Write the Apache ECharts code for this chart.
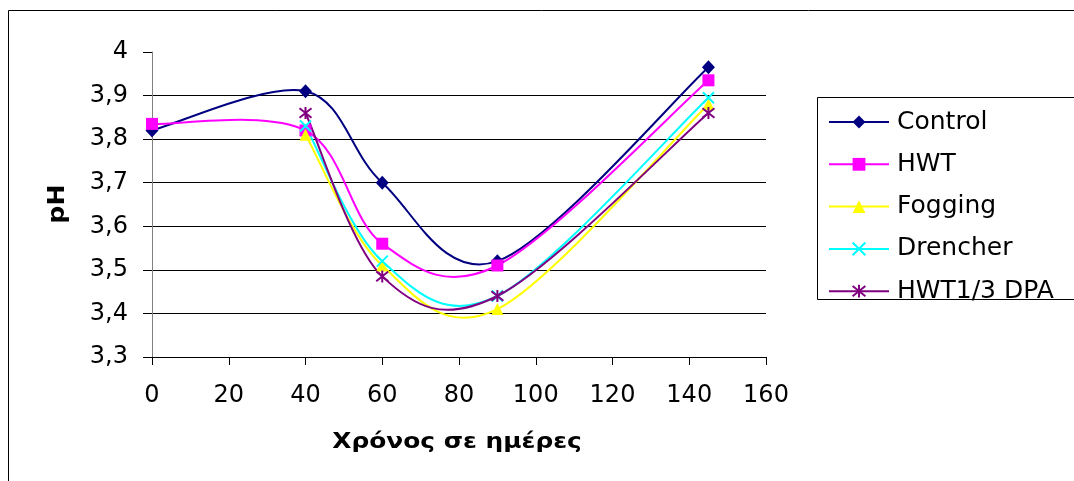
<!DOCTYPE html>
<html>
<head>
<meta charset="utf-8">
<script src="https://cdn.jsdelivr.net/npm/echarts@6/dist/echarts.min.js"></script>
<style>html,body{margin:0;padding:0;background:#fff}#c{width:1074px;height:481px}</style>
</head>
<body>
<div id="c"></div>
<script>
const days = [0, 40, 60, 90, 145];
const seriesNames = ['Control', 'HWT', 'Fogging', 'Drencher', 'HWT1/3 DPA'];
const control = [3.82, 3.91, 3.70, 3.52, 3.965];
const hwt = [3.835, 3.82, 3.56, 3.51, 3.935];
const fogging = [null, 3.81, 3.51, 3.41, 3.88];
const drencher = [null, 3.83, 3.52, 3.44, 3.895];
const dpa = [null, 3.86, 3.485, 3.44, 3.86];
const yTicks = [3.3, 3.4, 3.5, 3.6, 3.7, 3.8, 3.9, 4];
const xTicks = [0, 20, 40, 60, 80, 100, 120, 140, 160];

const colors = ['#000080', '#FF00FF', '#FFFF00', '#00FFFF', '#800080'];
const symbols = [
  'diamond',
  'rect',
  'triangle',
  'path://M0,0L10,10M10,0L0,10',
  'path://M5,0L5,10M1,1L9,9M9,1L1,9'
];
const sizes = [[13, 14], 12, 12, 11, 12];
const values = [control, hwt, fogging, drencher, dpa];

function pairs(arr) {
  const out = [];
  arr.forEach((v, i) => { if (v !== null) out.push([days[i], v]); });
  return out;
}

// Excel-style smoothed line (uniform Catmull-Rom Bezier), computed in pixel space via the axes
function makeRender(pts, color) {
  return function (params, api) {
    const i = params.dataIndex;
    if (i >= pts.length - 1) return null;
    const P = pts.map(p => api.coord(p));
    const p0 = P[Math.max(i - 1, 0)], p1 = P[i], p2 = P[i + 1], p3 = P[Math.min(i + 2, P.length - 1)];
    const f = 1 / 6;
    return {
      type: 'bezierCurve',
      shape: {
        x1: p1[0], y1: p1[1], x2: p2[0], y2: p2[1],
        cpx1: p1[0] + (p2[0] - p0[0]) * f, cpy1: p1[1] + (p2[1] - p0[1]) * f,
        cpx2: p2[0] - (p3[0] - p1[0]) * f, cpy2: p2[1] - (p3[1] - p1[1]) * f
      },
      style: { stroke: color, lineWidth: 2, fill: 'none' }
    };
  };
}

const series = [];
values.forEach((arr, i) => {
  const pts = pairs(arr);
  series.push({
    name: '_curve' + i,
    type: 'custom',
    data: pts,
    encode: { x: 0, y: 1 },
    renderItem: makeRender(pts, colors[i]),
    silent: true,
    animation: false
  });
  const stroke = i >= 3;
  series.push({
    name: seriesNames[i],
    type: 'line',
    data: pts,
    symbol: symbols[i],
    symbolSize: sizes[i],
    showAllSymbol: true,
    lineStyle: { color: colors[i], width: 2, opacity: 0 },
    itemStyle: stroke
      ? { color: colors[i], borderColor: colors[i], borderWidth: 2 }
      : { color: colors[i], borderWidth: 0 },
    emphasis: { disabled: true },
    silent: true,
    animation: false
  });
});

const labelFont = 'DejaVu Sans';
const chart = echarts.init(document.getElementById('c'));
chart.setOption({
  animation: false,
  backgroundColor: '#fff',
  grid: { left: 152, right: 308, top: 52, bottom: 124, containLabel: false },
  xAxis: {
    type: 'value',
    min: xTicks[0], max: xTicks[xTicks.length - 1], interval: 20,
    axisLine: { onZero: false, lineStyle: { color: '#000', width: 1 } },
    axisTick: { show: true, length: 8, lineStyle: { color: '#000' } },
    axisLabel: { margin: 27, fontFamily: labelFont, fontSize: 24, color: '#000' },
    splitLine: { show: false }
  },
  yAxis: {
    type: 'value',
    min: yTicks[0], max: yTicks[yTicks.length - 1], interval: 0.1,
    axisLine: { show: true, lineStyle: { color: '#808080', width: 1 } },
    axisTick: { show: true, length: 9, lineStyle: { color: '#000' } },
    axisLabel: {
      margin: 24, fontFamily: labelFont, fontSize: 24, color: '#000',
      formatter: v => String(Number(v.toFixed(1))).replace('.', ',')
    },
    splitLine: { show: true, showMinLine: false, showMaxLine: false, lineStyle: { color: '#000', width: 1 } }
  },
  legend: {
    orient: 'vertical',
    left: 828, top: 106,
    padding: 0,
    itemWidth: 60, itemHeight: 16, itemGap: 10.3,
    lineStyle: { opacity: 1, width: 2 },
    textStyle: { fontFamily: labelFont, fontSize: 25, color: '#000', padding: [0, 0, 8, 3], lineHeight: 24 },
    data: seriesNames,
    selectedMode: false
  },
  graphic: [
    { type: 'rect', silent: true, z: -1, shape: { x: 8.5, y: 10.5, width: 1200, height: 600 }, style: { fill: 'none', stroke: '#000', lineWidth: 1 } },
    { type: 'rect', silent: true, shape: { x: 817.5, y: 97.5, width: 300, height: 202 }, style: { fill: 'none', stroke: '#000', lineWidth: 1 } },
    { type: 'text', silent: true, x: 457, y: 442, scaleX: 1.13, style: { text: 'Χρόνος σε ημέρες', font: 'bold 22px "DejaVu Sans"', fill: '#000', align: 'center', verticalAlign: 'middle' } },
    { type: 'text', silent: true, x: 58, y: 204, rotation: Math.PI / 2, scaleX: 1.1, style: { text: 'pH', font: 'bold 23px "DejaVu Sans"', fill: '#000', align: 'center', verticalAlign: 'middle' } }
  ],
  series: series
});
</script>
</body>
</html>
